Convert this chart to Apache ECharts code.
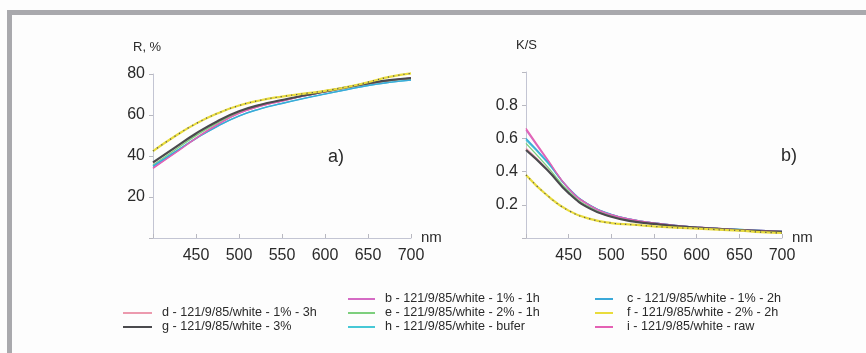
<!DOCTYPE html>
<html><head><meta charset="utf-8">
<script src="https://cdn.jsdelivr.net/npm/echarts@6/dist/echarts.min.js"></script>
<style>html,body{margin:0;padding:0;background:#fdfdfd}#c{width:866px;height:353px}</style>
</head><body><div id="c"></div>
<script>
const wavelengths = [400,425,450,475,500,525,550,575,600,625,650,675,700];
const xTicks = [450,500,550,600,650,700];
const rTicks = [20,40,60,80];
const ksTicks = [0.2,0.4,0.6,0.8];
const seriesNames = ['d - 121/9/85/white - 1% - 3h','g - 121/9/85/white - 3%','b - 121/9/85/white - 1% - 1h','e - 121/9/85/white - 2% - 1h','h - 121/9/85/white - bufer','c - 121/9/85/white - 1% - 2h','f - 121/9/85/white - 2% - 2h','i - 121/9/85/white - raw'];
// Reflectance R, %
const R_d = [36.6,43.8,50.8,56.8,61.6,64.9,67.2,69.4,71.5,73.5,75.3,76.9,77.9];
const R_g = [36.9,44,51,57,61.8,65,67.3,69.5,71.5,73.5,75.4,77,78];
const R_b = [34.3,41.4,48.8,55.4,60.9,64.3,66.8,69.2,71.3,73.4,75.3,76.9,78];
const R_e = [35.6,42.8,49.9,56.2,61.2,64.6,67,69.3,71.4,73.4,75.2,76.7,77.6];
const R_h = [35.1,41.9,48.6,54.6,59.6,63.1,65.7,68.1,70.3,72.4,74.4,75.9,77];
const R_c = [35,41.8,48.5,54.5,59.5,63,65.6,68,70.2,72.3,74.4,75.9,77];
const R_f = [42.4,49.5,55.8,60.8,64.6,67.2,69,70.4,71.8,73.6,76,78.6,80.3];
const R_i = [34,41.2,48.6,55.3,60.8,64.3,66.8,69.2,71.3,73.4,75.3,76.9,78];
// K/S
const KS_d = [0.54,0.415,0.272,0.178,0.129,0.102,0.086,0.073,0.064,0.056,0.049,0.043,0.038];
const KS_g = [0.53,0.41,0.27,0.177,0.128,0.10,0.085,0.072,0.063,0.055,0.048,0.042,0.037];
const KS_b = [0.65,0.47,0.297,0.195,0.14,0.11,0.09,0.075,0.065,0.058,0.05,0.045,0.04];
const KS_e = [0.57,0.43,0.28,0.185,0.133,0.105,0.088,0.074,0.064,0.056,0.049,0.044,0.039];
const KS_h = [0.59,0.455,0.298,0.196,0.141,0.11,0.09,0.075,0.065,0.058,0.052,0.046,0.04];
const KS_c = [0.60,0.46,0.3,0.197,0.142,0.11,0.09,0.075,0.065,0.058,0.052,0.046,0.04];
const KS_f = [0.38,0.256,0.165,0.115,0.09,0.08,0.07,0.062,0.057,0.05,0.045,0.035,0.03];
const KS_i = [0.66,0.475,0.298,0.195,0.14,0.11,0.09,0.075,0.065,0.058,0.05,0.045,0.04];

const colors = ['#ec9aae','#4a4a4e','#d56bc4','#7dcf7d','#47c8d6','#3aa9d9','#e9dc3c','#e461b4'];
const Rsets = [R_d,R_g,R_b,R_e,R_h,R_c,R_f,R_i];
const KSsets = [KS_d,KS_g,KS_b,KS_e,KS_h,KS_c,KS_f,KS_i];
const pairs = arr => wavelengths.map((w,i)=>[w,arr[i]]);

const FONT = 'Liberation Sans, Arial, sans-serif';
const tickLabel = {color:'#2a2a2a', fontSize:16, fontFamily:FONT};
function xAxis(gi){
  return {type:'value', gridIndex:gi, min:400, max:700, interval:50,
    axisLine:{show:true, lineStyle:{color:'#c3c5d3', width:1}},
    axisTick:{show:true, inside:true, length:4, lineStyle:{color:'#b8b8c0'}},
    axisLabel:Object.assign({margin:10, formatter:v=> xTicks.includes(v)? String(v):''}, tickLabel),
    splitLine:{show:false},
    name:'nm', nameLocation:'end', nameGap:10,
    nameTextStyle:{color:'#2a2a2a', fontSize:15, fontFamily:FONT, verticalAlign:'middle'}};
}
const series = [];
for (let k=0;k<8;k++){
  const w = (k===1)?2.2:1.4;
  const common = {name:seriesNames[k], type:'line', smooth:0.5, showSymbol:false, clip:false,
    lineStyle:{color:colors[k], width:k===6?2.2:w}, itemStyle:{color:colors[k]}, z: k===6?5:(k===1?4:3)};
  series.push(Object.assign({xAxisIndex:0, yAxisIndex:0, data:pairs(Rsets[k])}, common));
  series.push(Object.assign({xAxisIndex:1, yAxisIndex:1, data:pairs(KSsets[k])}, common));
}
// dark dots over yellow series f
series.push({name:'f-dots', type:'line', xAxisIndex:0, yAxisIndex:0, data:pairs(R_f), smooth:0.5, clip:false, showSymbol:false, lineStyle:{color:'#555', width:1.2, type:[1.2,4]}, z:6, silent:true});
series.push({name:'f-dots2', type:'line', xAxisIndex:1, yAxisIndex:1, data:pairs(KS_f), smooth:0.5, clip:false, showSymbol:false, lineStyle:{color:'#555', width:1.2, type:[1.2,4]}, z:6, silent:true});

function legend(left, top, names, w, pad){
  return {orient:'vertical', left, top, padding:0, itemWidth:w, itemHeight:2, itemGap:0, icon:'rect', data:names,
    textStyle:{color:'#2a2a2a', fontSize:12.6, fontFamily:FONT, lineHeight:14, padding:[0,0,0,pad]}, selectedMode:false};
}
const option = {
  animation:false,
  backgroundColor:'#fdfdfd',
  color:colors,
  grid:[{left:153, right:455, top:74, bottom:115}, {left:526, right:84, top:72, bottom:115}],
  xAxis:[xAxis(0), xAxis(1)],
  yAxis:[
    {type:'value', gridIndex:0, min:0, max:80, interval:20,
     axisLine:{show:true, lineStyle:{color:'#c3c5d3'}}, axisTick:{show:true, inside:false, length:4, lineStyle:{color:'#b8b8c0'}},
     axisLabel:Object.assign({margin:8, formatter:v=> rTicks.includes(v)? String(v):''}, tickLabel), splitLine:{show:false}},
    {type:'value', gridIndex:1, min:0, max:1, interval:0.2,
     axisLine:{show:true, lineStyle:{color:'#c3c5d3'}}, axisTick:{show:true, inside:false, length:4, lineStyle:{color:'#b8b8c0'}},
     axisLabel:Object.assign({margin:8, formatter:v=> ksTicks.some(t=>Math.abs(t-v)<1e-9)? v.toFixed(1):''}, tickLabel), splitLine:{show:false}}
  ],
  legend:[
    legend(123, 306, [seriesNames[0], seriesNames[1]], 29, 5),
    legend(348, 292, [seriesNames[2], seriesNames[3], seriesNames[4]], 27, 5),
    legend(595, 292, [seriesNames[5], seriesNames[6], seriesNames[7]], 18, 9)
  ],
  graphic:[
    {type:'rect', shape:{x:7, y:10, width:859, height:5}, style:{fill:'#a9a9ad'}, silent:true},
    {type:'rect', shape:{x:7, y:10, width:5, height:343}, style:{fill:'#a9a9ad'}, silent:true},
    {type:'text', left:133, top:41, style:{text:'R, %', fill:'#2a2a2a', font:'13px ' + FONT}},
    {type:'text', left:516, top:39, style:{text:'K/S', fill:'#2a2a2a', font:'13px ' + FONT}},
    {type:'text', left:328, top:148, style:{text:'a)', fill:'#2a2a2a', font:'18px ' + FONT}},
    {type:'text', left:781, top:147, style:{text:'b)', fill:'#2a2a2a', font:'18px ' + FONT}}
  ],
  series
};
const chart = echarts.init(document.getElementById('c'), null, {renderer:'canvas'});
chart.setOption(option);
</script></body></html>
